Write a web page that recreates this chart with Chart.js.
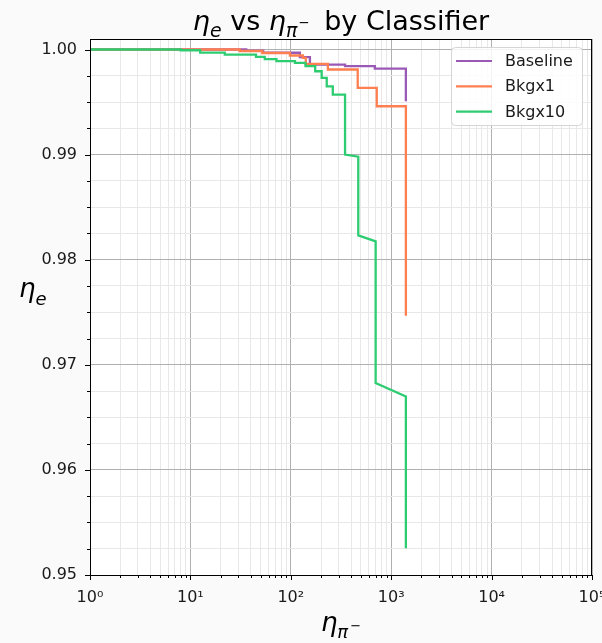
<!DOCTYPE html>
<html lang="en">
<head>
<meta charset="UTF-8">
<title>eta_e vs eta_pi by Classifier</title>
<style>
  html, body { margin: 0; padding: 0; background: #fafafa; }
  #wrap { width: 602px; height: 643px; }
</style>
<script src="https://cdn.jsdelivr.net/npm/chart.js"></script>
</head>
<body>
<div id="wrap"><canvas id="effChart" width="602" height="643"></canvas></div>
<script>
// values: corner points of each step curve
const seriesNames = ["Baseline", "Bkgx1", "Bkgx10"];
const seriesColors = ["#9b59b6", "#ff7f50", "#2ecc71"];

const baselineX = [1, 36, 36, 53, 53, 123, 123, 155, 155, 347, 347, 687, 687, 1400, 1400];
const baselineY = [1.0, 1.0, 0.9999, 0.9999, 0.99969, 0.99969, 0.99927, 0.99927, 0.99857, 0.99857,
                   0.99841, 0.99841, 0.99819, 0.99819, 0.99508];

const bkg1X = [1, 31, 31, 52, 52, 98, 98, 132, 132, 141, 141, 234, 234, 464, 464, 718, 718, 1400, 1400];
const bkg1Y = [1.0, 1.0, 0.99986, 0.99986, 0.99967, 0.99967, 0.99943, 0.99943, 0.99921, 0.99921,
               0.99864, 0.99864, 0.9981, 0.9981, 0.99635, 0.99635, 0.9946, 0.9946, 0.97467];

const bkg10X = [1, 8, 8, 12.5, 12.5, 22, 22, 45, 45, 55, 55, 72, 72, 110, 110, 140, 140, 175, 175,
                203, 203, 228, 228, 262, 262, 347, 347, 470, 470, 700, 700, 1400, 1400];
const bkg10Y = [1.0, 1.0, 0.99993, 0.99993, 0.9997, 0.9997, 0.99952, 0.99952, 0.9993, 0.9993,
                0.99908, 0.99908, 0.99889, 0.99889, 0.99873, 0.99873, 0.99841, 0.99841, 0.99793, 0.99793,
                0.9973, 0.9973, 0.9965, 0.9965, 0.99571, 0.99571, 0.990, 0.9898, 0.98231, 0.98174,
                0.96826, 0.96698, 0.95254];

// axis ticks
const xDecades = [1, 10, 100, 1000, 10000, 100000];
const xTickLabels = ["10\u2070", "10\u00b9", "10\u00b2", "10\u00b3", "10\u2074", "10\u2075"];
const yMajorTicks = [0.95, 0.96, 0.97, 0.98, 0.99, 1.00];
const yTickLabels = ["0.95", "0.96", "0.97", "0.98", "0.99", "1.00"];

const FONT = "'DejaVu Sans', 'Liberation Sans', sans-serif";

function toPoints(xs, ys) {
    return xs.map((x, i) => ({ x: x, y: ys[i] }));
}

function isDecade(v) {
    const k = Math.log10(v);
    return Math.abs(k - Math.round(k)) < 1e-9;
}

function isYMajor(v) {
    return Math.abs(v * 100 - Math.round(v * 100)) < 1e-6;
}

// draws a row of text pieces (used for the math style labels)
function drawRich(ctx, parts, x0, baseY, center) {
    let total = 0;
    parts.forEach(p => {
        ctx.font = p.font;
        p.w = ctx.measureText(p.t).width;
        total += p.w + (p.gap || 0);
    });
    let x = center ? x0 - total / 2 : x0;
    parts.forEach(p => {
        ctx.font = p.font;
        ctx.fillText(p.t, x, baseY + (p.dy || 0));
        x += p.w + (p.gap || 0);
    });
}

const decorations = {
    id: 'decorations',
    beforeDraw(chart) {
        const { ctx, chartArea: a } = chart;
        ctx.save();
        ctx.fillStyle = '#fafafa';
        ctx.fillRect(0, 0, chart.width, chart.height);
        ctx.fillStyle = '#ffffff';
        ctx.fillRect(a.left, a.top, a.right - a.left, a.bottom - a.top);
        ctx.restore();
    },
    afterDraw(chart) {
        const { ctx, chartArea: a } = chart;
        const xs = chart.scales.x, ys = chart.scales.y;
        ctx.save();

        // frame
        ctx.strokeStyle = '#000000';
        ctx.lineWidth = 1;
        ctx.strokeRect(Math.round(a.left) + 0.5, Math.round(a.top) + 0.5,
                       Math.round(a.right - a.left) - 1, Math.round(a.bottom - a.top));

        // tick marks
        ctx.beginPath();
        ys.ticks.forEach(t => {
            const py = Math.round(ys.getPixelForValue(t.value)) + 0.5;
            const len = isYMajor(t.value) ? 5 : 3;
            ctx.moveTo(a.left - len, py);
            ctx.lineTo(a.left, py);
        });
        xs.ticks.forEach(t => {
            const px = Math.round(xs.getPixelForValue(t.value)) + 0.5;
            const len = isDecade(t.value) ? 5 : 3;
            ctx.moveTo(px, a.bottom);
            ctx.lineTo(px, a.bottom + len);
        });
        ctx.stroke();

        ctx.fillStyle = '#000000';
        ctx.textBaseline = 'alphabetic';
        ctx.textAlign = 'left';

        // title
        const S = 27;
        drawRich(ctx, [
            { t: 'η', font: `italic ${S}px ${FONT}` },
            { t: 'e', font: `italic ${S * 0.7}px ${FONT}`, dy: S * 0.25 },
            { t: ' vs ', font: `${S}px ${FONT}` },
            { t: 'η', font: `italic ${S}px ${FONT}` },
            { t: 'π', font: `italic ${S * 0.7}px ${FONT}`, dy: S * 0.25, gap: 1 },
            { t: '\u2212', font: `${S * 0.5}px ${FONT}`, dy: -S * 0.12, gap: 6 },
            { t: ' by Classifier', font: `${S}px ${FONT}` }
        ], (a.left + a.right) / 2, 30, true);

        // y axis title (horizontal, as in the reference)
        drawRich(ctx, [
            { t: 'η', font: `italic 26px ${FONT}` },
            { t: 'e', font: `italic 18px ${FONT}`, dy: 7.5 }
        ], 19, 297, false);

        // x axis title
        drawRich(ctx, [
            { t: 'η', font: `italic 26px ${FONT}` },
            { t: 'π', font: `italic 18px ${FONT}`, dy: 7, gap: 2 },
            { t: '\u2212', font: `13px ${FONT}`, dy: -1 }
        ], (a.left + a.right) / 2, 631, true);

        // legend
        const lx = 451.5, ly = 47.5, lw = 131, lh = 78;
        ctx.beginPath();
        ctx.roundRect(lx, ly, lw, lh, 4);
        ctx.fillStyle = 'rgba(255,255,255,0.85)';
        ctx.fill();
        ctx.strokeStyle = '#d5d5d5';
        ctx.lineWidth = 1;
        ctx.stroke();
        ctx.font = `16px ${FONT}`;
        ctx.textBaseline = 'middle';
        chart.data.datasets.forEach((d, i) => {
            const y = 61 + i * 25.3;
            ctx.strokeStyle = d.borderColor;
            ctx.lineWidth = 2.2;
            ctx.beginPath();
            ctx.moveTo(456, y);
            ctx.lineTo(492, y);
            ctx.stroke();
            ctx.fillStyle = '#1a1a1a';
            ctx.fillText(d.label, 505, y + 1);
        });
        ctx.restore();
    }
};

const datasets = [
    { label: seriesNames[0], data: toPoints(baselineX, baselineY), borderColor: seriesColors[0], order: 3 },
    { label: seriesNames[1], data: toPoints(bkg1X, bkg1Y), borderColor: seriesColors[1], order: 2 },
    { label: seriesNames[2], data: toPoints(bkg10X, bkg10Y), borderColor: seriesColors[2], order: 1 }
].map(d => Object.assign(d, {
    backgroundColor: d.borderColor,
    borderWidth: 2.3,
    pointRadius: 0,
    showLine: true,
    fill: false,
    tension: 0
}));

new Chart(document.getElementById('effChart').getContext('2d'), {
    type: 'scatter',
    data: { datasets: datasets },
    options: {
        responsive: false,
        devicePixelRatio: 1,
        animation: false,
        layout: { padding: { top: 39, right: 10, left: 0, bottom: 0 } },
        plugins: {
            legend: { display: false },
            title: { display: false },
            tooltip: { enabled: false }
        },
        scales: {
            x: {
                type: 'logarithmic',
                min: 1,
                max: 100000,
                afterBuildTicks: axis => {
                    const ticks = [];
                    xDecades.forEach(d => {
                        for (let m = 1; m <= 9; m++) {
                            if (d * m <= 100000) ticks.push({ value: d * m });
                        }
                    });
                    axis.ticks = ticks;
                },
                afterFit: axis => {
                    axis.height = 68;
                    axis.paddingLeft = 0;
                    axis.paddingRight = 0;
                },
                ticks: {
                    autoSkip: false,
                    maxRotation: 0,
                    padding: 13,
                    color: '#1a1a1a',
                    font: { family: FONT, size: 16 },
                    callback: value => isDecade(value) ? xTickLabels[xDecades.indexOf(Math.round(value))] : ''
                },
                grid: {
                    drawTicks: false,
                    lineWidth: 1,
                    color: ctx => ctx.tick && isDecade(ctx.tick.value) ? '#b0b0b0' : '#e8e8e8'
                },
                border: { display: false }
            },
            y: {
                type: 'linear',
                min: 0.95,
                max: 1.001,
                afterBuildTicks: axis => {
                    const ticks = [];
                    for (let i = 0; i <= 20; i++) ticks.push({ value: 0.95 + i * 0.0025 });
                    axis.ticks = ticks;
                },
                afterFit: axis => {
                    axis.width = 90;
                    axis.paddingTop = 0;
                    axis.paddingBottom = 0;
                },
                ticks: {
                    autoSkip: false,
                    padding: 13,
                    color: '#1a1a1a',
                    font: { family: FONT, size: 16 },
                    callback: value => {
                        if (!isYMajor(value)) return '';
                        const i = yMajorTicks.findIndex(t => Math.abs(t - value) < 1e-6);
                        return i >= 0 ? yTickLabels[i] : '';
                    }
                },
                grid: {
                    drawTicks: false,
                    lineWidth: 1,
                    color: ctx => ctx.tick && isYMajor(ctx.tick.value) ? '#b0b0b0' : '#e8e8e8'
                },
                border: { display: false }
            }
        }
    },
    plugins: [decorations]
});
</script>
</body>
</html>
